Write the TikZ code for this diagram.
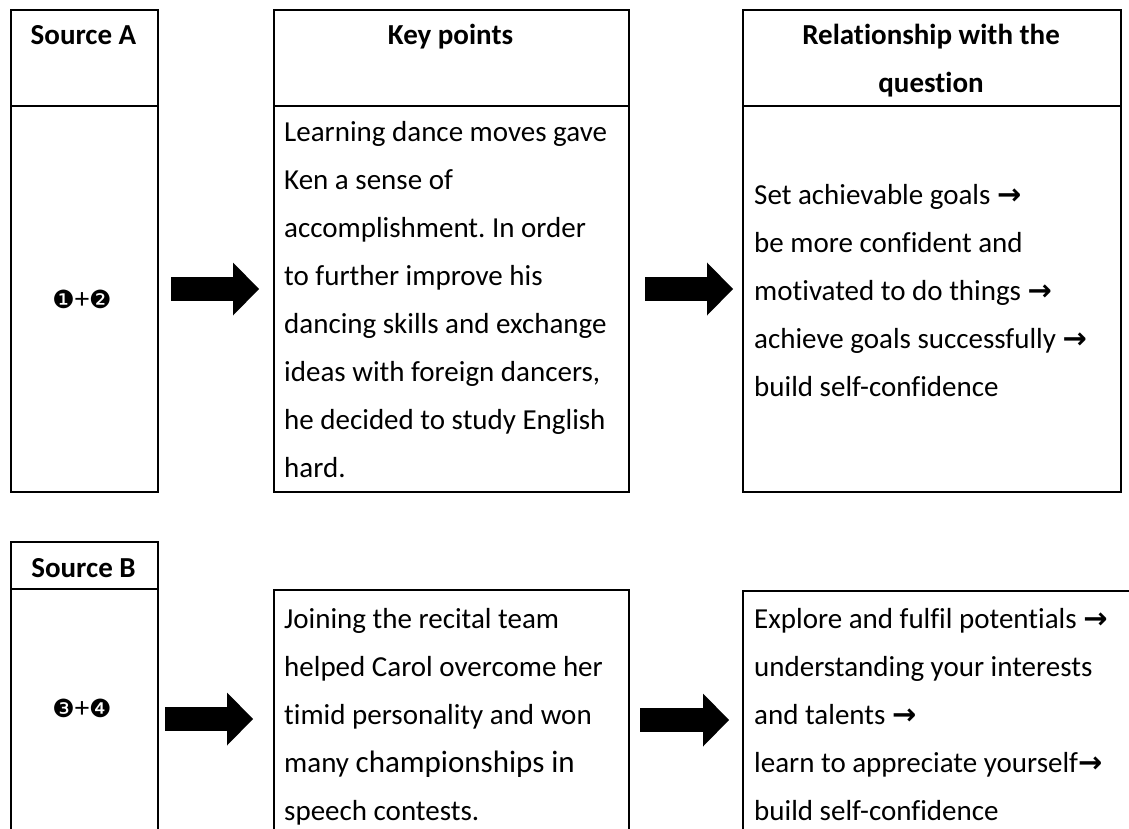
\documentclass[tikz,border=0pt]{standalone}
\usepackage{fontspec}
\setmainfont{Carlito}[Ligatures=NoCommon]
\newfontfamily\dejavu{DejaVu Sans}
\usetikzlibrary{arrows.meta}
\frenchspacing
\newcommand{\rarr}{{\dejavu\bfseries\fontsize{29}{48}\selectfont →}}
\newcommand{\circnum}[1]{{\dejavu\fontsize{25}{48}\selectfont #1}}
\tikzset{
  cell/.style = {draw, line width=2pt, inner sep=0pt, anchor=north west},% table box
  rule/.style = {line width=2pt},% header divider
  hdr/.style = {align=center, inner sep=0pt, anchor=north,
    font=\fontsize{29}{48}\selectfont\bfseries},% header text
  body/.style = {align=left, inner sep=0pt, anchor=north west,
    font=\fontsize{29}{48}\selectfont},% body text
  bigarrow/.style = {line width=24pt,
    -{Triangle[width=53pt,length=26pt,line width=0pt]}}% thick black arrow
}

\begin{document}
\begin{tikzpicture}[x=1pt,y=-1pt]
  \useasboundingbox (0,0) rectangle (1129,829);
  \clip (0,0) rectangle (1129,829);

  % Source A row
  \node [cell, minimum width=147pt, minimum height=482pt] (srcA) at (10,9) {};
  \node [cell, minimum width=355pt, minimum height=482pt] (keyA) at (273,9) {};
  \node [cell, minimum width=378pt, minimum height=482pt] (relA) at (742,9) {};
  \foreach \cellname in {srcA,keyA,relA}
    \draw [rule] (\cellname.west |- 0,106) -- (\cellname.east |- 0,106);

  \node [hdr] (hsrcA) at (83.5,10.4) {\strut Source A};
  \node [hdr] (hkeyA) at (450.5,10.4) {\strut Key points};
  \node [hdr] (hrelA) at (931,10.4) {\strut Relationship with the\\question};

  \node [inner sep=0pt, font=\fontsize{29}{48}\selectfont] (numA) at (82,299.5)
    {\circnum{❶}+\circnum{❷}};
  \node [body] (txtkeyA) at (284,107.4) {\strut Learning dance moves gave\\
    Ken a sense of\\
    accomplishment. In order\\
    to further improve his\\
    dancing skills and exchange\\
    ideas with foreign dancers,\\
    he decided to study English\\
    hard.};
  \node [body] (txtrelA) at (754,170.4) {\strut Set achievable goals \rarr\\
    be more confident and\\
    motivated to do things \rarr\\
    achieve goals successfully \rarr\\
    build self-confidence};

  % Source B row
  \node [cell, minimum width=147pt, minimum height=320pt] (srcB) at (10,541) {};
  \node [cell, minimum width=355pt, minimum height=270pt] (keyB) at (273,589) {};
  \node [cell, minimum width=400pt, minimum height=270pt] (relB) at (742,590) {};
  \draw [rule] (srcB.west |- 0,589) -- (srcB.east |- 0,589);

  \node [hdr] (hsrcB) at (83.5,543.4) {\strut Source B};
  \node [inner sep=0pt, font=\fontsize{29}{48}\selectfont] (numB) at (82,708.5)
    {\circnum{❸}+\circnum{❹}};
  \node [body] (txtkeyB) at (284,594.4) {\strut Joining the recital team\\
    helped Carol overcome her\\
    timid personality and won\\
    many {\fontsize{31}{48}\selectfont championships in}\\
    speech contests.};
  \node [body] (txtrelB) at (754,594.4) {\strut Explore and fulfil potentials \rarr\\
    understanding your interests\\
    and talents \rarr\\
    learn to appreciate yourself\rarr\\
    build self-confidence};

  % arrows between the columns
  \coordinate (a1s) at (171,289);  \coordinate (a1e) at (259,289);
  \coordinate (a2s) at (645,289);  \coordinate (a2e) at (733,289);
  \coordinate (b1s) at (165,719);  \coordinate (b1e) at (253,719);
  \coordinate (b2s) at (640,720);  \coordinate (b2e) at (729,720);
  \foreach \from/\to in {a1s/a1e,a2s/a2e,b1s/b1e,b2s/b2e}
    \draw [bigarrow] (\from) -- (\to);
\end{tikzpicture}
\end{document}
